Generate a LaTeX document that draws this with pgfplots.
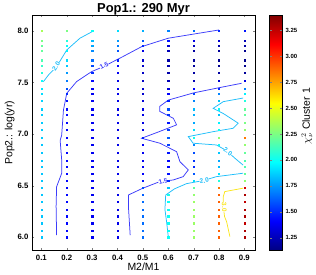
\documentclass[border=0pt]{standalone}
\usepackage{pgfplots}
\usepackage{pgfplotstable}
\pgfplotsset{compat=1.18}
\usepackage{fontspec}
\setmainfont{Liberation Sans}
\definecolor{cA}{RGB}{60,60,250}
\definecolor{cB}{RGB}{30,190,250}
\definecolor{cC}{RGB}{250,230,30}
\tikzset{lbl/.style={font=\fontsize{6.5}{7}\selectfont\bfseries, fill=white, inner sep=0.2bp}}
\pgfplotstableread{
y     c1   c2   c3   c4   c5   c6   c7   c8   c9
8.000 2.35 2.25 2.00 1.90 1.80 1.70 1.65 1.50 1.45
7.906 2.25 2.05 1.82 1.75 1.60 1.45 1.35 1.30 1.25
7.858 2.20 1.98 1.78 1.68 1.50 1.30 1.25 1.22 1.20
7.809 2.20 1.95 1.72 1.60 1.35 1.25 1.20 1.18 1.16
7.716 2.15 1.90 1.65 1.48 1.30 1.22 1.18 1.16 1.15
7.664 2.10 1.85 1.57 1.42 1.28 1.22 1.18 1.16 1.15
7.596 2.05 1.75 1.50 1.38 1.28 1.22 1.20 1.20 1.18
7.518 2.00 1.68 1.42 1.36 1.28 1.25 1.25 1.30 1.35
7.438 1.92 1.58 1.38 1.36 1.30 1.32 1.42 1.50 1.70
7.390 1.90 1.50 1.38 1.36 1.30 1.40 1.55 1.70 1.95
7.322 1.88 1.45 1.38 1.36 1.32 1.48 1.70 1.85 2.05
7.241 1.87 1.43 1.38 1.36 1.35 1.58 1.82 1.98 2.20
7.186 1.87 1.42 1.38 1.36 1.35 1.52 1.80 1.85 2.20
7.111 1.86 1.42 1.38 1.36 1.35 1.45 1.78 1.95 2.25
7.041 1.86 1.42 1.38 1.36 1.35 1.55 1.90 2.00 2.30
6.968 1.86 1.42 1.38 1.36 1.48 1.62 2.02 2.30 2.85
6.900 1.85 1.42 1.38 1.36 1.40 1.55 1.70 2.00 2.30
6.821 1.85 1.42 1.38 1.36 1.38 1.45 1.58 1.85 2.20
6.743 1.85 1.42 1.38 1.36 1.38 1.42 1.52 1.78 2.15
6.685 1.85 1.42 1.38 1.36 1.38 1.42 1.50 1.82 2.15
6.617 1.85 1.42 1.38 1.36 1.40 1.44 1.60 1.92 2.20
6.551 1.85 1.42 1.38 1.36 1.45 1.50 1.90 2.05 2.30
6.481 1.85 1.42 1.38 1.36 1.58 1.85 2.20 2.85 3.20
6.416 1.85 1.42 1.38 1.36 1.62 2.02 2.30 2.90 3.30
6.346 1.85 1.42 1.38 1.36 1.65 2.00 2.32 2.90 3.25
6.270 1.85 1.42 1.38 1.36 1.65 2.00 2.32 2.90 3.30
6.204 1.85 1.42 1.38 1.36 1.65 2.00 2.32 2.90 3.30
6.137 1.85 1.42 1.38 1.36 1.65 2.00 2.32 2.90 3.25
6.065 1.85 1.42 1.38 1.36 1.65 2.00 2.32 2.90 3.30
6.000 1.85 1.42 1.38 1.36 1.65 2.00 2.32 2.90 3.30
}\dotdata
\begin{document}
\begin{tikzpicture}
\begin{axis}[name=ax,
  scale only axis, width=223bp, height=235.7bp,
  xmin=0.063, xmax=0.942, ymin=5.87, ymax=8.155,
  xtick={0.1,0.2,0.3,0.4,0.5,0.6,0.7,0.8,0.9},
  ytick={6,6.5,7,7.5,8},
  tick align=inside, major tick length=2.5bp,
  axis line style={line width=0.6bp},
  /pgf/number format/assume math mode=true,
  tick label style={font=\fontsize{7.8}{9}\selectfont\bfseries},
  xticklabel style={yshift=-0.5bp, /pgf/number format/.cd, fixed, fixed zerofill, precision=1},
  yticklabel style={/pgf/number format/.cd, fixed, fixed zerofill, precision=1},
  xlabel={M2/M1}, ylabel={Pop2.: log(yr)},
  label style={font=\fontsize{10.5}{12}\selectfont},
  xlabel style={at={(axis description cs:0.5,-0.082)}, anchor=base},
  ylabel style={at={(axis description cs:-0.088,0.5)}, anchor=base},
  colormap/jet, point meta min=1.124, point meta max=3.398,
  colorbar, colorbar shift/.style={xshift=14.3bp},
  colorbar style={width=12.4bp,
    ytick={1.25,1.5,1.75,2,2.25,2.5,2.75,3,3.25},
    tick align=inside, major tick length=2bp,
    /pgf/number format/assume math mode=true,
    yticklabel style={font=\fontsize{6}{7}\selectfont\bfseries, /pgf/number format/.cd, fixed, fixed zerofill, precision=2},
    ylabel={$\chi^2_\nu$ Cluster 1},
    ylabel style={font=\fontsize{10.5}{12}\selectfont, at={(axis description cs:3.24,0.57)}, anchor=base},
  },
  dots/.style={scatter, only marks, mark=square*, mark size=0.65bp, scatter src=explicit,
    scatter/use mapped color={draw=mapped color, fill=mapped color}},
  cline/.style={line width=0.75bp, no markers},
]
% contour lines
\addplot[cline, cA] coordinates {(0.16,6.02) (0.158,6.30) (0.16,6.49) (0.18,6.62) (0.18,6.75) (0.174,6.94) (0.18,6.99) (0.187,7.234) (0.2,7.396) (0.239,7.51) (0.298,7.606) (0.344,7.654) (0.42,7.75) (0.495,7.848) (0.6,7.93) (0.7,7.97) (0.8,8.01)};
\addplot[cline, cA] coordinates {(0.889,7.493) (0.8,7.45) (0.7,7.40) (0.6,7.33) (0.567,7.27) (0.567,7.22) (0.62,7.154) (0.633,7.09) (0.56,7.02) (0.495,6.96) (0.567,6.912) (0.633,6.83) (0.646,6.733) (0.679,6.653) (0.659,6.588) (0.62,6.556) (0.567,6.54) (0.5,6.476) (0.443,6.41) (0.443,6.30) (0.45,6.02)};
\addplot[cline, cB] coordinates {(0.108,7.509) (0.13,7.58) (0.16,7.654) (0.2,7.816) (0.252,7.93) (0.305,8.0)};
\addplot[cline, cB] coordinates {(0.895,7.35) (0.817,7.315) (0.777,7.25) (0.817,7.2) (0.876,7.106) (0.856,7.057) (0.777,7.024) (0.679,6.976) (0.698,6.912) (0.79,6.895) (0.83,6.84) (0.863,6.766) (0.895,6.70)};
\addplot[cline, cB] coordinates {(0.895,6.621) (0.79,6.588) (0.738,6.55) (0.672,6.52) (0.625,6.47) (0.59,6.41) (0.587,6.27) (0.594,6.14) (0.6,6.01)};
\addplot[cline, cC] coordinates {(0.895,6.476) (0.823,6.443) (0.817,6.394) (0.817,6.30) (0.822,6.2) (0.83,6.152) (0.843,6.007)};
% contour labels
\node[lbl, text=cB, rotate=54] at (axis cs:0.158,7.66) {2.0};
\node[lbl, text=cA, rotate=27] at (axis cs:0.347,7.665) {1.5};
\node[lbl, text=cA, rotate=15] at (axis cs:0.58,6.54) {1.5};
\node[lbl, text=cB, rotate=-35] at (axis cs:0.835,6.83) {2.0};
\node[lbl, text=cB, rotate=10] at (axis cs:0.742,6.548) {2.0};
\node[lbl, text=cC, rotate=-88] at (axis cs:0.821,6.29) {3.0};
% grid points
\addplot[dots] table[x expr=0.1, y=y, meta=c1] {\dotdata};
\addplot[dots] table[x expr=0.2, y=y, meta=c2] {\dotdata};
\addplot[dots] table[x expr=0.3, y=y, meta=c3] {\dotdata};
\addplot[dots] table[x expr=0.4, y=y, meta=c4] {\dotdata};
\addplot[dots] table[x expr=0.5, y=y, meta=c5] {\dotdata};
\addplot[dots] table[x expr=0.6, y=y, meta=c6] {\dotdata};
\addplot[dots] table[x expr=0.7, y=y, meta=c7] {\dotdata};
\addplot[dots] table[x expr=0.8, y=y, meta=c8] {\dotdata};
\addplot[dots] table[x expr=0.9, y=y, meta=c9] {\dotdata};
\end{axis}
\node[anchor=base, font=\fontsize{13}{15}\selectfont\bfseries] at ([yshift=2.5bp]ax.north) {Pop1.: 290 Myr};
\pgfresetboundingbox
\path ([shift={(-32bp,-24.3bp)}]ax.south west) rectangle ([shift={(61bp,15bp)}]ax.north east);
\end{tikzpicture}
\end{document}
